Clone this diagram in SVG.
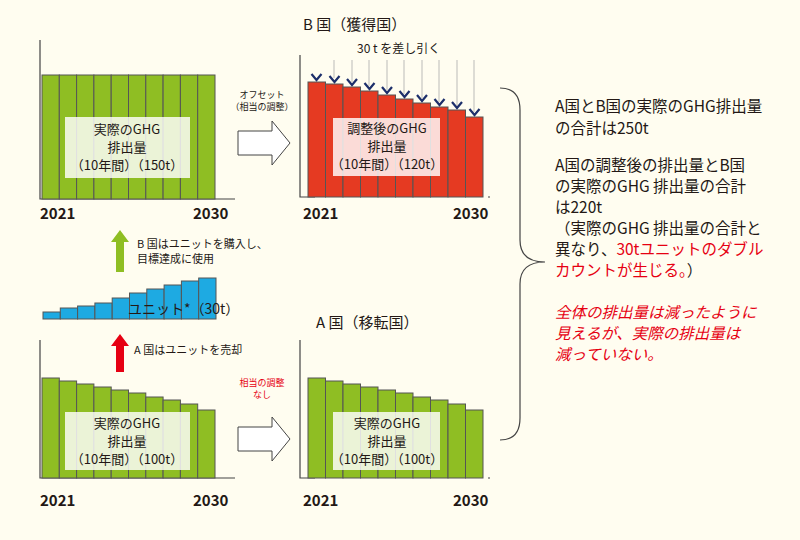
<svg xmlns="http://www.w3.org/2000/svg" width="800" height="540" viewBox="0 0 800 540">
<style>
text{font-family:"Noto Sans CJK JP","Noto Sans",sans-serif;fill:#231815}
.g{fill:#8fbe23;stroke:#555;stroke-width:1}
.r{fill:#e53a22;stroke:#555;stroke-width:1}
.b{fill:#1eaae2;stroke:#555;stroke-width:1}
.ax{stroke:#444;stroke-width:1.2;fill:none}
.lb{fill:#fff;fill-opacity:0.82}
.t{font-size:13px;text-anchor:middle}
.yr{font-size:15px;font-weight:bold}
.s{font-size:11px}
.m{font-size:15.5px}
.red{fill:#e60012}
.gl{stroke:#aaa;stroke-width:0.8}
.chev{fill:none;stroke:#1d2f6b;stroke-width:2.2}
</style>
<rect width="800" height="540" fill="#fffdf0"/>
<g id="chartTL">
<path class="ax" d="M40,40V199H235"/>
<g class="g">
<rect x="42" y="75" width="17.3" height="124"/><rect x="59.3" y="75" width="17.3" height="124"/><rect x="76.6" y="75" width="17.3" height="124"/><rect x="93.9" y="75" width="17.3" height="124"/><rect x="111.2" y="75" width="17.3" height="124"/><rect x="128.5" y="75" width="17.3" height="124"/><rect x="145.8" y="75" width="17.3" height="124"/><rect x="163.1" y="75" width="17.3" height="124"/><rect x="180.4" y="75" width="17.3" height="124"/><rect x="197.7" y="75" width="17.3" height="124"/>
</g>
<rect class="lb" x="65" y="117" width="125" height="61"/>
<text class="t" x="127" y="134">実際のGHG</text><text class="t" x="127" y="152">排出量</text><text class="t" x="127" y="170">（10年間）（150t）</text>
<text class="yr" x="40" y="219">2021</text><text class="yr" x="193" y="219">2030</text>
</g>
<g id="chartB">
<text x="303" y="30" font-size="15">B 国（獲得国）</text>
<text x="357" y="53" font-size="12">30 t を差し引く</text>
<path class="ax" d="M300,55V197H315M488,197H490"/>
<g class="r">
<rect x="308" y="82" width="17.5" height="115"/><rect x="325.5" y="84" width="17.5" height="113"/><rect x="343" y="87" width="17.5" height="110"/><rect x="360.5" y="91" width="17.5" height="106"/><rect x="378" y="95" width="17.5" height="102"/><rect x="395.5" y="99" width="17.5" height="98"/><rect x="413" y="103" width="17.5" height="94"/><rect x="430.5" y="107" width="17.5" height="90"/><rect x="448" y="110" width="17.5" height="87"/><rect x="465.5" y="117" width="17.5" height="80"/>
</g>
<g class="gl">
<line x1="334" y1="60" x2="334" y2="78"/><line x1="352" y1="60" x2="352" y2="82"/><line x1="369" y1="60" x2="369" y2="86"/><line x1="387" y1="60" x2="387" y2="90"/><line x1="404" y1="60" x2="404" y2="94"/><line x1="422" y1="60" x2="422" y2="98"/><line x1="439" y1="60" x2="439" y2="102"/><line x1="457" y1="60" x2="457" y2="106"/><line x1="474" y1="60" x2="474" y2="112"/>
</g>
<g class="chev">
<path d="M311.5,74l5,6l5,-6"/><path d="M329.5,76l5,6l5,-6"/><path d="M347,79l5,6l5,-6"/><path d="M364.5,83l5,6l5,-6"/><path d="M382,87l5,6l5,-6"/><path d="M399.5,91l5,6l5,-6"/><path d="M417,95l5,6l5,-6"/><path d="M434.5,99l5,6l5,-6"/><path d="M452,102l5,6l5,-6"/><path d="M469.5,109l5,6l5,-6"/>
</g>
<rect class="lb" x="333" y="118" width="107" height="58"/>
<text class="t" x="387" y="133">調整後のGHG</text><text class="t" x="387" y="151">排出量</text><text class="t" x="387" y="169">（10年間）（120t）</text>
<text class="yr" x="303" y="219">2021</text><text class="yr" x="453" y="219">2030</text>
</g>
<g id="units">
<g class="b">
<rect x="43" y="312" width="17.3" height="7"/><rect x="60.3" y="308" width="17.3" height="11"/><rect x="77.6" y="306" width="17.3" height="13"/><rect x="94.9" y="303" width="17.3" height="16"/><rect x="112.2" y="298" width="17.3" height="21"/><rect x="129.5" y="293" width="17.3" height="26"/><rect x="146.8" y="289" width="17.3" height="30"/><rect x="164.1" y="285" width="17.3" height="34"/><rect x="181.4" y="281" width="17.3" height="38"/><rect x="198.7" y="278" width="17.3" height="41"/>
</g>
<text x="128" y="314" font-size="14">ユニット*（30t）</text>
</g>
<g id="arrowUp">
<polygon points="111,242 116,242 116,272 124,272 124,242 129,242 120,230" fill="#8fbe23"/>
<text class="s" x="137" y="248">B 国はユニットを購入し、</text><text class="s" x="137" y="263">目標達成に使用</text>
</g>
<g id="arrowSell">
<polygon points="111,346 116,346 116,372 124,372 124,346 129,346 120,334" fill="#e60012"/>
<text class="s" x="134" y="354">A 国はユニットを売却</text>
</g>
<g id="chartBL">
<path class="ax" d="M40,340V478H235"/>
<g class="g">
<rect x="42" y="378" width="17.3" height="100"/><rect x="59.3" y="381" width="17.3" height="97"/><rect x="76.6" y="384" width="17.3" height="94"/><rect x="93.9" y="387" width="17.3" height="91"/><rect x="111.2" y="390" width="17.3" height="88"/><rect x="128.5" y="393" width="17.3" height="85"/><rect x="145.8" y="397" width="17.3" height="81"/><rect x="163.1" y="400" width="17.3" height="78"/><rect x="180.4" y="404" width="17.3" height="74"/><rect x="197.7" y="410" width="17.3" height="68"/>
</g>
<rect class="lb" x="65" y="412" width="125" height="58"/>
<text class="t" x="127" y="428">実際のGHG</text><text class="t" x="127" y="446">排出量</text><text class="t" x="127" y="464">（10年間）（100t）</text>
<text class="yr" x="40" y="506">2021</text><text class="yr" x="193" y="506">2030</text>
</g>
<g id="chartA">
<text x="316" y="328" font-size="15">A 国（移転国）</text>
<path class="ax" d="M300,340V478H315M488,478H490"/>
<g class="g">
<rect x="308" y="378" width="17.5" height="100"/><rect x="325.5" y="381" width="17.5" height="97"/><rect x="343" y="384" width="17.5" height="94"/><rect x="360.5" y="387" width="17.5" height="91"/><rect x="378" y="390" width="17.5" height="88"/><rect x="395.5" y="393" width="17.5" height="85"/><rect x="413" y="397" width="17.5" height="81"/><rect x="430.5" y="400" width="17.5" height="78"/><rect x="448" y="404" width="17.5" height="74"/><rect x="465.5" y="410" width="17.5" height="68"/>
</g>
<rect class="lb" x="333" y="412" width="107" height="58"/>
<text class="t" x="387" y="428">実際のGHG</text><text class="t" x="387" y="446">排出量</text><text class="t" x="387" y="464">（10年間）（100t）</text>
<text class="yr" x="303" y="506">2021</text><text class="yr" x="453" y="506">2030</text>
</g>
<g id="connectors">
<polygon points="238,131 272,131 272,121 290,143 272,165 272,155 238,155" fill="#fff" stroke="#444"/>
<polygon points="238,427 272,427 272,417 290,439 272,461 272,451 238,451" fill="#fff" stroke="#444"/>
<path d="M500,88Q520,88 520,110V240Q520,262 545,262Q520,262 520,284V418Q520,440 500,440" fill="none" stroke="#444" stroke-width="1.2"/>
</g>
<g id="offset">
<text x="262" y="98" font-size="9" text-anchor="middle">オフセット</text><text x="262" y="110" font-size="9" text-anchor="middle">（相当の調整）</text>
</g>
<g id="noadj">
<text class="red" x="262" y="386" font-size="9" text-anchor="middle">相当の調整</text><text class="red" x="262" y="398" font-size="9" text-anchor="middle">なし</text>
</g>
<g id="notes">
<text class="m" x="555" y="112">A国とB国の実際のGHG排出量</text>
<text class="m" x="555" y="134">の合計は250t</text>
<text class="m" x="555" y="171">A国の調整後の排出量とB国</text>
<text class="m" x="555" y="192">の実際のGHG 排出量の合計</text>
<text class="m" x="555" y="213">は220t</text>
<text class="m" x="555" y="234">（実際のGHG 排出量の合計と</text>
<text class="m" x="555" y="255">異なり、<tspan class="red">30tユニットのダブル</tspan></text>
<text class="m" x="555" y="276"><tspan class="red">カウントが生じる。</tspan>）</text>
<text class="m red" x="555" y="318" font-style="italic">全体の排出量は減ったように</text>
<text class="m red" x="555" y="339" font-style="italic">見えるが、実際の排出量は</text>
<text class="m red" x="555" y="360" font-style="italic">減っていない。</text>
</g>
</svg>
